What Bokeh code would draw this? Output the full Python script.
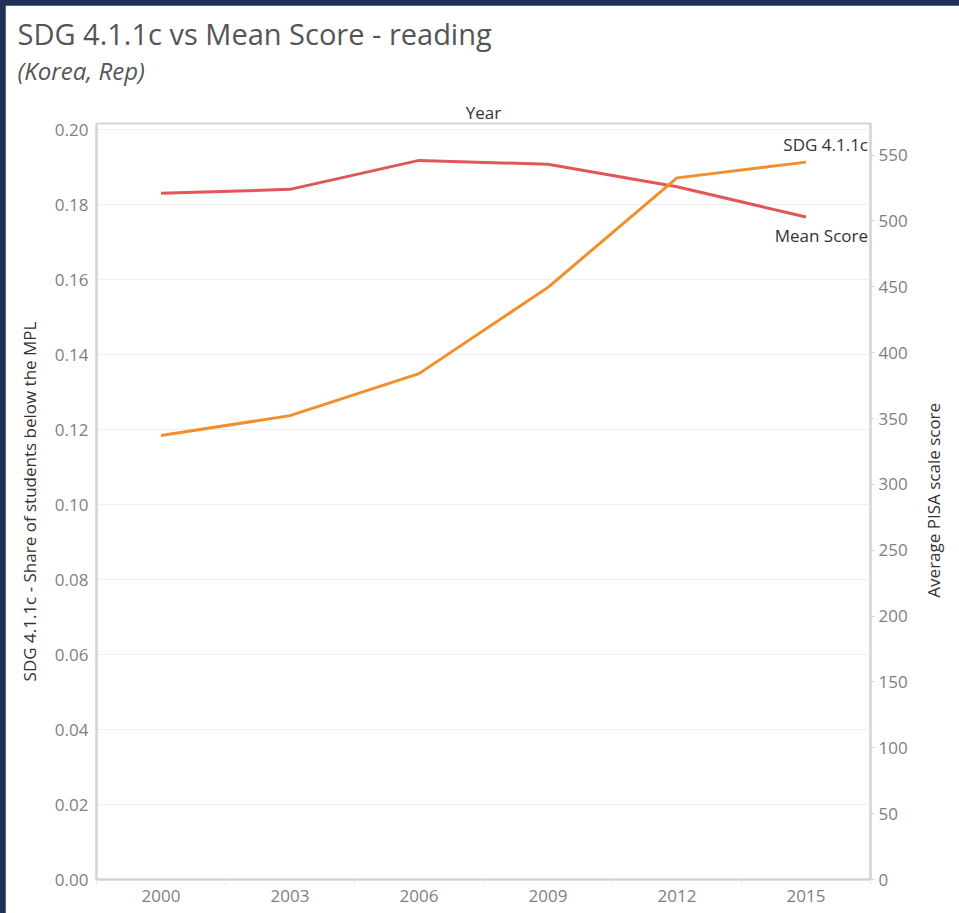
from math import pi
from bokeh.plotting import figure
from bokeh.models import Range1d, LinearAxis, FixedTicker, Title, NumeralTickFormatter
from bokeh.embed import file_html
from bokeh.resources import INLINE
from bokeh.core.properties import value

# ---- data ----
years = [2000, 2003, 2006, 2009, 2012, 2015]
sdg_share = [0.1184, 0.1237, 0.1349, 0.1579, 0.1871, 0.1913]   # left axis
mean_score = [521, 524, 546, 543, 526, 503]                      # right axis
left_ticks = [0.00, 0.02, 0.04, 0.06, 0.08, 0.10, 0.12, 0.14, 0.16, 0.18, 0.20]
right_ticks = [0, 50, 100, 150, 200, 250, 300, 350, 400, 450, 500, 550]
year_bounds = [1998.5, 2001.5, 2004.5, 2007.5, 2010.5, 2013.5, 2016.5]
left_max = 0.2016
right_max = 574
right_title = "Average PISA scale score"
right_title_anchor = 214   # score value where the (bottom-to-top) right title starts

FONT = "Open Sans"
TICK_COLOR = "#7f7f7f"
LINE_GRAY = "#d4d4d4"
LABEL_SIZE = "17px"
TICK_SIZE = "17px"

p = figure(width=954, height=908, output_backend="svg", toolbar_location=None,
           title=None,
           x_range=Range1d(year_bounds[0], year_bounds[-1]),
           y_range=Range1d(0, left_max),
           min_border_left=91, min_border_right=87, min_border_top=118, min_border_bottom=34)
p.extra_y_ranges = {"score": Range1d(0, right_max)}

p.background_fill_color = "white"
p.border_fill_color = "white"
p.outline_line_color = LINE_GRAY
p.outline_line_width = 2

# titles: first added sits closest to the frame
p.add_layout(Title(text="Year", align="center", text_font=FONT, text_font_size=LABEL_SIZE,
                   text_font_style="normal", text_color="#333333", standoff=0), "above")
p.add_layout(Title(text="(Korea, Rep)", align="left", offset=-79, text_font=FONT,
                   text_font_size="24px", text_font_style="italic",
                   text_color="#555555", standoff=24), "above")
p.add_layout(Title(text="SDG 4.1.1c vs  Mean Score - reading", align="left", offset=-79,
                   text_font=FONT, text_font_size="29px", text_font_style="normal",
                   text_color="#555555", standoff=-27), "above")

# grid
p.xgrid.visible = False
p.ygrid.ticker = FixedTicker(ticks=left_ticks)
p.ygrid.grid_line_color = "#efefef"
p.ygrid.grid_line_width = 1

# left axis
ya = p.yaxis[0]
ya.ticker = FixedTicker(ticks=left_ticks)
ya.formatter = NumeralTickFormatter(format="0.00")
ya.major_tick_out = 0
ya.major_tick_in = 0
ya.minor_tick_out = 0
ya.minor_tick_in = 0
ya.axis_line_color = LINE_GRAY
ya.axis_line_width = 2
ya.major_label_standoff = 8
ya.major_label_text_font = FONT
ya.major_label_text_font_size = TICK_SIZE
ya.major_label_text_color = TICK_COLOR
ya.axis_label = "SDG 4.1.1c - Share of students below the MPL"
ya.axis_label_text_font = FONT
ya.axis_label_text_font_size = LABEL_SIZE
ya.axis_label_text_font_style = "normal"
ya.axis_label_text_color = "#333333"
ya.axis_label_standoff = 11

# right axis
ra = LinearAxis(y_range_name="score", ticker=FixedTicker(ticks=right_ticks))
ra.major_tick_out = 4
ra.major_tick_in = 0
ra.minor_tick_out = 0
ra.minor_tick_in = 0
ra.major_tick_line_color = LINE_GRAY
ra.axis_line_color = LINE_GRAY
ra.axis_line_width = 2
ra.major_label_standoff = 4
ra.major_label_text_font = FONT
ra.major_label_text_font_size = TICK_SIZE
ra.major_label_text_color = TICK_COLOR
p.add_layout(ra, "right")

# right-axis title, drawn as a single rotated tick label so it reads bottom-to-top
rt = LinearAxis(y_range_name="score", ticker=FixedTicker(ticks=[right_title_anchor]),
                major_label_overrides={right_title_anchor: right_title,
                                       str(right_title_anchor): right_title},
                major_label_orientation=pi / 2)
rt.axis_line_color = None
rt.major_tick_line_color = None
rt.minor_tick_line_color = None
rt.major_tick_out = 0
rt.major_tick_in = 0
rt.major_label_standoff = 23
rt.major_label_text_font = FONT
rt.major_label_text_font_size = LABEL_SIZE
rt.major_label_text_color = "#333333"
p.add_layout(rt, "right")

# bottom axis
xa = p.xaxis[0]
xa.ticker = FixedTicker(ticks=years, minor_ticks=year_bounds)
xa.formatter = NumeralTickFormatter(format="0")
xa.major_tick_out = 0
xa.major_tick_in = 0
xa.minor_tick_out = 5
xa.minor_tick_in = 0
xa.minor_tick_line_color = "#e6e6e6"
xa.axis_line_color = LINE_GRAY
xa.axis_line_width = 2
xa.major_label_standoff = 5
xa.major_label_text_font = FONT
xa.major_label_text_font_size = TICK_SIZE
xa.major_label_text_color = TICK_COLOR

# lines
p.line(years, mean_score, y_range_name="score", line_color="#e15759", line_width=3)
p.line(years, sdg_share, line_color="#f28e2b", line_width=3)

# end labels
p.text(x=[years[-1]], y=[sdg_share[-1]], text=["SDG 4.1.1c"], x_offset=62, y_offset=-18,
       text_align="right", text_baseline="middle", text_font=value(FONT),
       text_font_size=LABEL_SIZE, text_color="#333333")
p.text(x=[years[-1]], y=[mean_score[-1]], text=["Mean Score"], y_range_name="score",
       x_offset=62, y_offset=18, text_align="right", text_baseline="middle",
       text_font=value(FONT), text_font_size=LABEL_SIZE, text_color="#333333")

html = file_html(p, INLINE)
style = ("<style>html, body { background-color: #1f3358 !important; margin: 0 !important; "
         "padding: 0 !important; overflow: hidden; } "
         "body { padding: 5px 0 0 5px !important; }</style>")
html = html.replace("</head>", style + "</head>", 1)
open("out.html", "w").write(html)
